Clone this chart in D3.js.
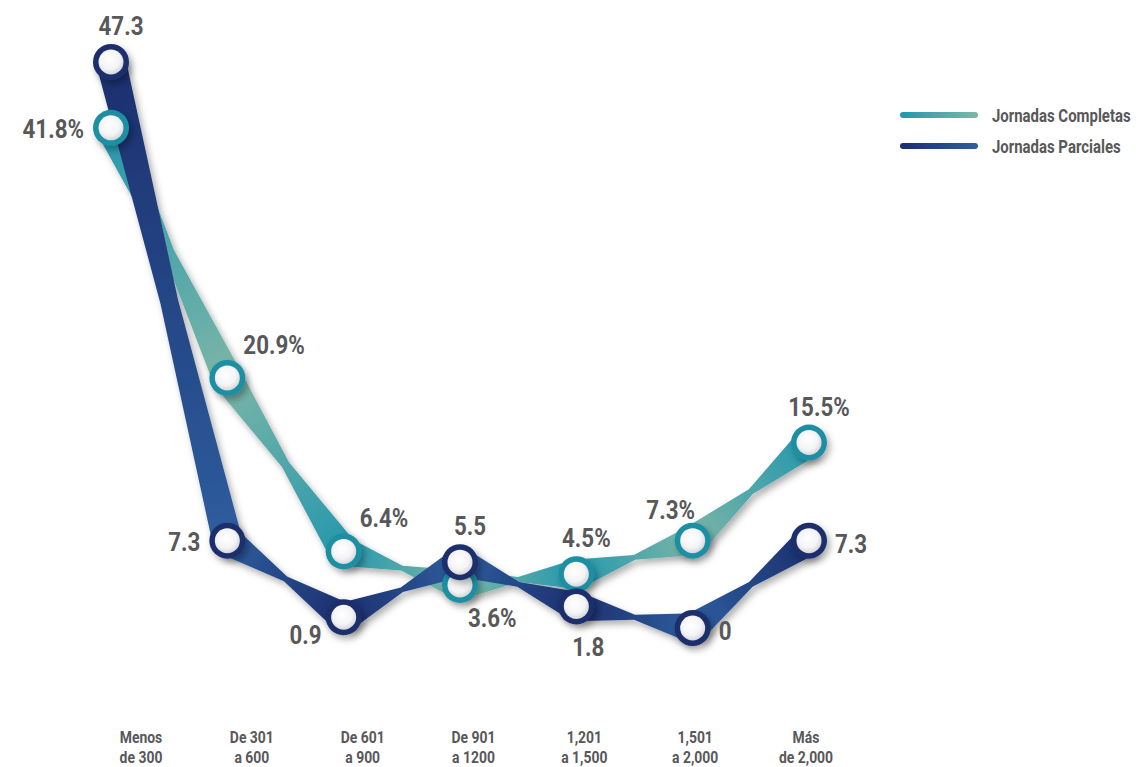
<!DOCTYPE html>
<html>
<head>
<meta charset="utf-8">
<script src="https://cdn.jsdelivr.net/npm/d3@7"></script>
<style>
  html, body { margin: 0; padding: 0; background: #fff; }
  svg { display: block; }
  text { font-family: 'Roboto', 'Liberation Sans', sans-serif; font-weight: bold; fill: #58585a; }
</style>
</head>
<body>
<svg id="chart" width="1136" height="767"></svg>
<script>
// Salary ranges (x categories), two lines per range
const categories = ["Menos de 300", "De 301 a 600", "De 601 a 900", "De 901 a 1200", "1,201 a 1,500", "1,501 a 2,000", "Más de 2,000"];
const axisLines = [["Menos", "de 300"], ["De 301", "a 600"], ["De 601", "a 900"], ["De 901", "a 1200"], ["1,201", "a 1,500"], ["1,501", "a 2,000"], ["Más", "de 2,000"]];

const completas = [41.8, 20.9, 6.4, 3.6, 4.5, 7.3, 15.5];
const completasLabels = ["41.8%", "20.9%", "6.4%", "3.6%", "4.5%", "7.3%", "15.5%"];
const completasSide = ["w", "ne", "ne", "se", "n", "nw", "n"];

const parciales = [47.3, 7.3, 0.9, 5.5, 1.8, 0, 7.3];
const parcialesLabels = ["47.3", "7.3", "0.9", "5.5", "1.8", "0", "7.3"];
const parcialesSide = ["n", "w", "sw", "n", "s", "e", "e"];

const seriesNames = ["Jornadas Completas", "Jornadas Parciales"];

const svg = d3.select("#chart");
const defs = svg.append("defs");

// soft shadow under ribbons and nodes
const shadow = defs.append("filter").attr("id", "shadow")
  .attr("x", "-30%").attr("y", "-30%").attr("width", "160%").attr("height", "160%");
shadow.append("feDropShadow").attr("dx", 3).attr("dy", 4).attr("stdDeviation", 3.5)
  .attr("flood-color", "#000").attr("flood-opacity", 0.32);

// glossy white node fill
const knob = defs.append("radialGradient").attr("id", "knob")
  .attr("cx", "45%").attr("cy", "40%").attr("r", "65%");
knob.append("stop").attr("offset", "0%").attr("stop-color", "#ffffff");
knob.append("stop").attr("offset", "60%").attr("stop-color", "#f4f4f6");
knob.append("stop").attr("offset", "100%").attr("stop-color", "#cfd0d6");

const x = d3.scalePoint().domain(categories).range([111, 809]);
const xAxisScale = d3.scalePoint().domain(categories).range([141, 806]);
const y = d3.scaleLinear().domain([0, 47.3]).range([628, 62]);

const series = [
  { key: "c", values: completas, labels: completasLabels, side: completasSide,
    ring: "#1e8fa3", colA: "#2598ad", colB: "#7bb5a7" },
  { key: "p", values: parciales, labels: parcialesLabels, side: parcialesSide,
    ring: "#1d2f6c", colA: "#1c2f6e", colB: "#2e5d9e" }
];

// condensed bold text: horizontally squeezed glyphs
function condensedText(parent, px, py, str, size, squeeze, anchor) {
  return parent.append("text")
    .attr("transform", `translate(${px},${py}) scale(${squeeze},1)`)
    .attr("text-anchor", anchor)
    .attr("font-size", size)
    .text(str);
}

// tapered "bow-tie" ribbon between two nodes
function ribbon(a, b) {
  const dx = b[0] - a[0], dy = b[1] - a[1];
  const len = Math.hypot(dx, dy);
  const nx = -dy / len, ny = dx / len;
  const w = 15;
  const m = Math.max(2.5, Math.min(9, len * 0.02));
  const mx = (a[0] + b[0]) / 2, my = (a[1] + b[1]) / 2;
  const p = d3.path();
  p.moveTo(a[0] + nx * w, a[1] + ny * w);
  p.lineTo(mx + nx * m, my + ny * m);
  p.lineTo(b[0] + nx * w, b[1] + ny * w);
  p.lineTo(b[0] - nx * w, b[1] - ny * w);
  p.lineTo(mx - nx * m, my - ny * m);
  p.lineTo(a[0] - nx * w, a[1] - ny * w);
  p.closePath();
  return p.toString();
}

const ribbonLayer = svg.append("g").attr("filter", "url(#shadow)");

series.forEach(s => {
  const pts = s.values.map((v, i) => [x(categories[i]), y(v)]);
  const g = ribbonLayer.append("g");
  for (let i = 0; i < pts.length - 1; i++) {
    const a = pts[i], b = pts[i + 1];
    const gid = `grad-${s.key}-${i}`;
    const lg = defs.append("linearGradient").attr("id", gid)
      .attr("gradientUnits", "userSpaceOnUse")
      .attr("x1", a[0]).attr("y1", a[1]).attr("x2", b[0]).attr("y2", b[1]);
    const c1 = i % 2 === 0 ? s.colA : s.colB;
    const c2 = i % 2 === 0 ? s.colB : s.colA;
    lg.append("stop").attr("offset", "0%").attr("stop-color", c1);
    lg.append("stop").attr("offset", "100%").attr("stop-color", c2);
    g.append("path").attr("d", ribbon(a, b)).attr("fill", `url(#${gid})`);
  }
});

// nodes
const nodeLayer = svg.append("g");
series.forEach(s => {
  const g = nodeLayer.append("g");
  s.values.forEach((v, i) => {
    const cx = x(categories[i]), cy = y(v);
    g.append("circle").attr("cx", cx).attr("cy", cy).attr("r", 18)
      .attr("fill", s.ring).attr("filter", "url(#shadow)");
    g.append("circle").attr("cx", cx).attr("cy", cy).attr("r", 12.5)
      .attr("fill", "url(#knob)");
  });
});

// value labels
const offsets = {
  n:  { dx: 10,  dy: -27, anchor: "middle" },
  s:  { dx: 12,  dy: 50,  anchor: "middle" },
  w:  { dx: -27, dy: 10,  anchor: "end" },
  e:  { dx: 26,  dy: 12,  anchor: "start" },
  ne: { dx: 16,  dy: -24, anchor: "start" },
  nw: { dx: -22, dy: -22, anchor: "middle" },
  se: { dx: 8,   dy: 42,  anchor: "start" },
  sw: { dx: -22, dy: 27,  anchor: "end" }
};
const labelLayer = svg.append("g");
series.forEach(s => {
  s.values.forEach((v, i) => {
    const o = offsets[s.side[i]];
    condensedText(labelLayer, x(categories[i]) + o.dx, y(v) + o.dy, s.labels[i], 26, 0.86, o.anchor);
  });
});

// category labels along the bottom
const axisG = svg.append("g");
categories.forEach((c, i) => {
  axisLines[i].forEach((ln, k) => {
    condensedText(axisG, xAxisScale(c), 743 + k * 20, ln, 17, 0.82, "middle");
  });
});

// legend
const legend = svg.append("g");
series.forEach((s, i) => {
  const ly = 115 + i * 31;
  const gid = `leg-${s.key}`;
  const lg = defs.append("linearGradient").attr("id", gid)
    .attr("gradientUnits", "userSpaceOnUse").attr("x1", 903).attr("x2", 975).attr("y1", 0).attr("y2", 0);
  lg.append("stop").attr("offset", "0%").attr("stop-color", s.colA);
  lg.append("stop").attr("offset", "100%").attr("stop-color", s.colB);
  legend.append("line").attr("x1", 903).attr("x2", 975).attr("y1", ly).attr("y2", ly)
    .attr("stroke", `url(#${gid})`).attr("stroke-width", 6).attr("stroke-linecap", "round");
  condensedText(legend, 992, ly + 6.5, seriesNames[i], 18, 0.83, "start");
});
</script>
</body>
</html>
